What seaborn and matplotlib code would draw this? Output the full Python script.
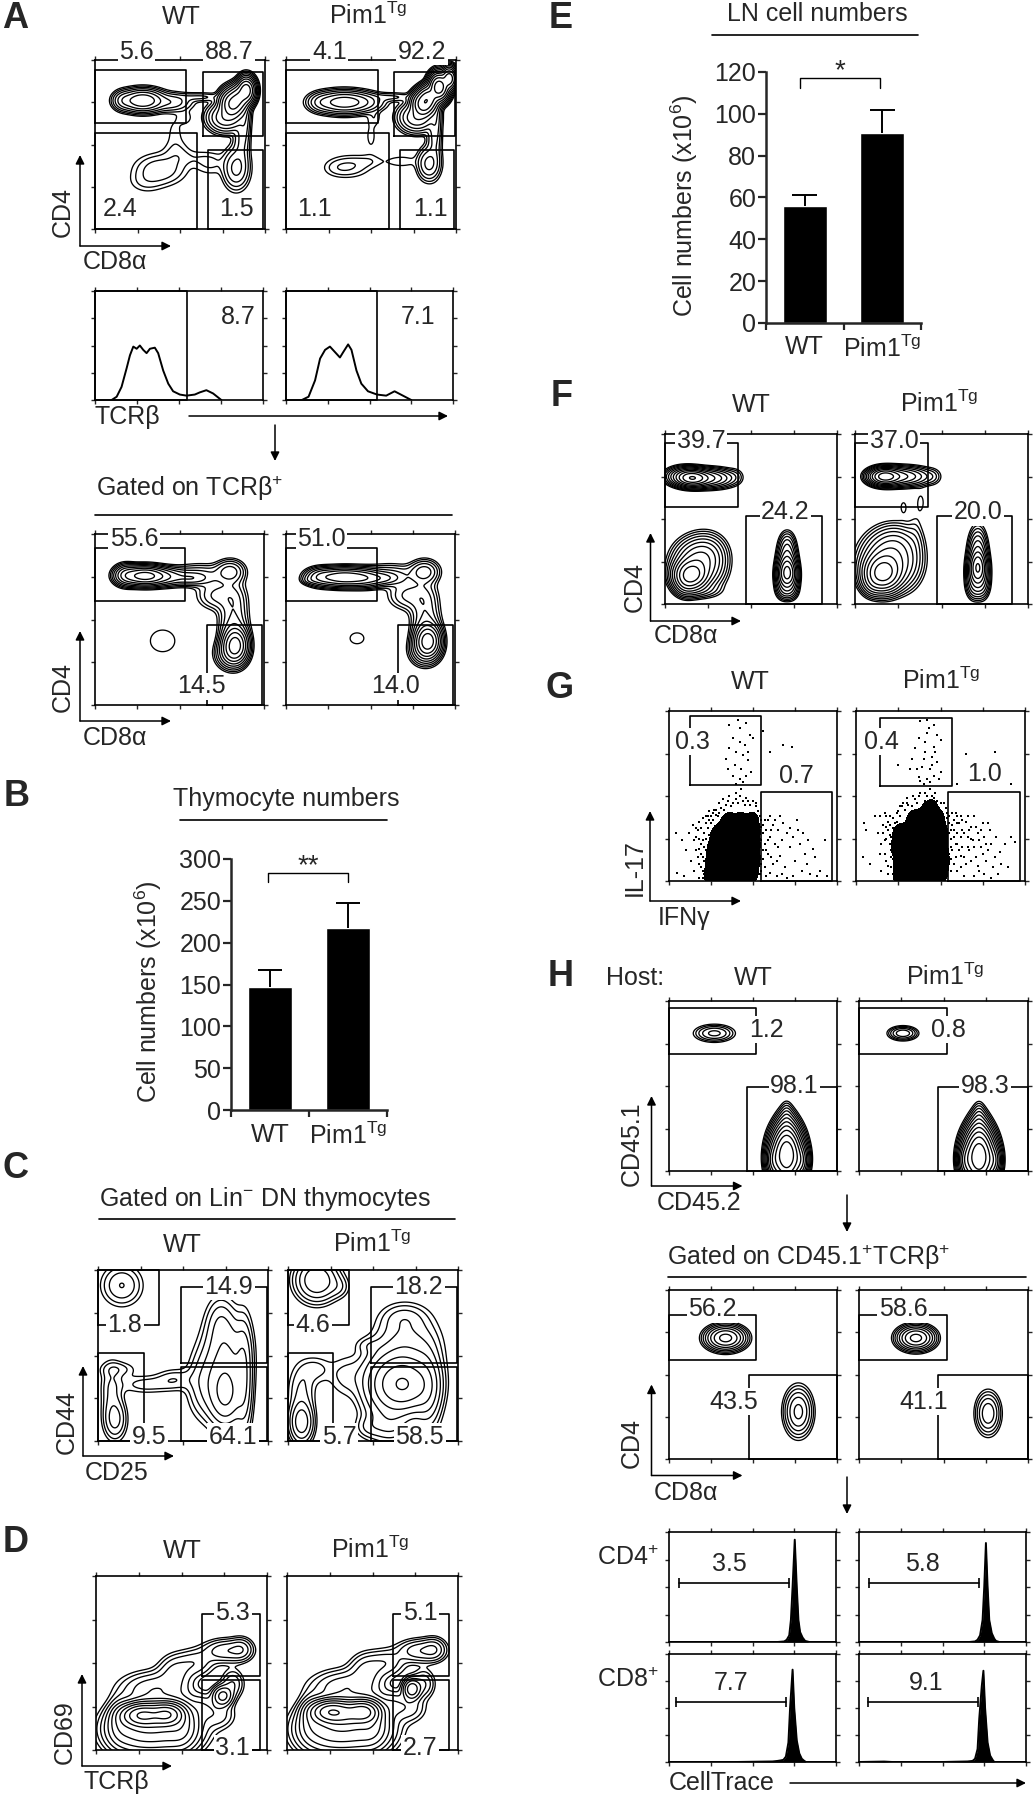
import numpy as np
import pandas as pd
import matplotlib
matplotlib.use("Agg")
import matplotlib.pyplot as plt
from matplotlib.colors import ListedColormap
import seaborn as sns

W, H = 1034, 1800
sns.set_style("white")
plt.rcParams["font.family"] = ["Liberation Sans", "DejaVu Sans"]
plt.rcParams["mathtext.fontset"] = "custom"
plt.rcParams["mathtext.rm"] = "Liberation Sans"
plt.rcParams["mathtext.it"] = "Liberation Sans:italic"
plt.rcParams["mathtext.bf"] = "Liberation Sans:bold"
plt.rcParams["mathtext.default"] = "rm"

PIM = r"Pim1$^{\mathrm{Tg}}$"
GROUPS = ["WT", PIM]

# bar charts
B_MEAN = [147, 217]
B_TOP = [167, 247]
B_TICKS = [0, 50, 100, 150, 200, 250, 300]
E_MEAN = [56, 91]
E_TOP = [61, 102]
E_TICKS = [0, 20, 40, 60, 80, 100, 120]

# histograms (percent of panel)
HA_WT_X = [9.9, 12.9, 15.8, 18.8, 20.8, 22.8, 24.8, 26.7, 28.7, 30.7, 32.7, 35.6, 37.6, 40.6, 43.6, 46.5, 50.5, 54.5, 59.4, 62.4, 66.3, 70.3, 75.2]
HA_WT_Y = [0, 3, 12, 29, 41, 49, 47, 50, 46, 43, 47, 48, 43, 27, 15, 8, 5, 4, 5, 7, 9, 6, 0]
HA_PIM_X = [9.5, 13.5, 17.4, 20.4, 23.4, 26.3, 29.3, 32.3, 34.3, 37.2, 39.2, 42.2, 45.1, 49.1, 54.5, 60, 65, 70, 75]
HA_PIM_Y = [0, 3, 18, 38, 46, 49, 44, 39, 44, 51, 46, 27, 15, 8, 5, 4, 8, 4, 0]

PEAK_CD4_WT_X = [0, 30, 65, 69, 70.5, 72, 73, 74, 75.3, 76.5, 77.5, 78.5, 80, 81.5, 84, 100]
PEAK_CD4_WT_Y = [0, 0, 0, 0.5, 2, 6, 20, 50, 93, 50, 20, 9, 4, 1, 0, 0]
PEAK_CD4_PIM_X = [0, 30, 66, 69.5, 71, 72.5, 74, 75, 76, 77, 78, 79.5, 81, 82, 84, 100]
PEAK_CD4_PIM_Y = [0, 0, 0, 0.5, 2, 6, 20, 50, 90, 50, 20, 8, 3, 1, 0, 0]
PEAK_CD8_WT_X = [0, 40, 62, 65, 67, 68.5, 70, 71.5, 72.5, 74, 75, 76.5, 78, 79.5, 81, 82, 100]
PEAK_CD8_WT_Y = [0, 0, 0.5, 1, 1.5, 2, 5, 18, 50, 85.5, 50, 20, 8, 3, 1, 0, 0]
PEAK_CD8_PIM_X = [0, 15, 20, 50, 65, 68, 69.5, 71, 72, 73.5, 74.5, 75.5, 77, 78.5, 80, 81, 100]
PEAK_CD8_PIM_Y = [0, 0.4, 0, 0, 0.5, 1, 3, 12, 40, 70, 84.5, 50, 18, 6, 2, 0, 0]

# population blobs: (x, y, spread x, spread y, height), percent of panel
A_WT = [(28, 76, 5.8, 3, 120), (17, 76, 3.2, 2.8, 20), (44, 75, 6.5, 2.8, 14), (62, 78, 8, 1.5, 4.5), (53, 66, 3, 3, 1.6),
        (81, 74, 3.4, 4, 300), (77, 66, 5, 4, 60), (89, 82, 2.4, 3.5, 400), (85, 78, 2.8, 3.6, 200), (88, 66, 1.8, 9, 10), (86, 52, 2.6, 9, 8),
        (83, 36, 3.8, 6, 20), (60, 42, 9, 3, 1.4), (68, 38, 6, 4, 2),
        (38, 35, 8, 5, 7), (30, 28, 6, 4, 2), (48, 44, 5, 5, 2.5), (47, 57, 3.5, 7, 1.3)]
A_PIM = [(34, 75, 7.5, 3, 100), (21, 75, 4, 2.8, 14), (46, 75, 6, 2.8, 16), (62, 78, 8, 1.5, 4.5), (52, 66, 2.5, 3, 1.5),
         (81, 74, 3.2, 3.5, 400), (77, 66, 5, 4, 60), (90, 84, 2.6, 3.6, 800), (84, 78, 2.8, 3.2, 300), (96, 89, 2, 3, 400), (88, 66, 1.8, 9, 10), (87, 52, 2.4, 9, 7),
         (84, 38.6, 3.3, 4.8, 20), (68, 40, 7, 2.5, 1.6),
         (37, 37, 7, 3.7, 4), (30, 36, 5, 3, 1.5), (48, 40, 6, 2.5, 1.5), (50, 55, 3, 8, 1.2)]
AG_WT = [(29, 75.5, 7, 3, 40), (18, 76, 4, 3.5, 10), (42, 75, 7, 3, 10), (57, 74, 6, 2.2, 5), (62, 76, 10, 4, 4), (80, 78, 5, 4, 7),
         (72, 64, 7, 5, 4), (82, 60, 5, 8, 4), (82, 46, 5, 7, 5), (83, 35, 4, 5.5, 40), (80, 30, 5, 5, 8), (40, 37.5, 8, 7, 1.5)]
AG_PIM = [(34, 74.7, 9, 3, 30), (20, 75, 5, 3, 8), (14, 73, 3, 1.5, 2), (47, 74, 6, 3, 10), (57, 74, 6, 2.2, 6), (62, 76, 10, 4, 4), (82, 78, 5, 4, 7),
          (72, 64, 7, 5, 4), (82, 60, 5, 8, 4), (83, 46, 5, 7, 5), (84, 37.5, 4, 5, 40), (82, 32, 5, 5, 8), (42, 39, 4.5, 3.5, 1.5)]
C_WT = [(14, 91, 7, 7, 5), (10, 12.6, 4, 7, 6), (8, 30, 4, 10, 3), (12, 42, 7, 3, 2), (28, 33, 10, 3.5, 2.2), (45, 36, 7, 4, 2.5),
        (75, 27, 6, 11, 15), (75, 50, 8, 14, 8), (72, 70, 5, 9, 3), (62, 33, 6, 12, 4), (86, 30, 3, 18, 5), (86, 50, 3, 15, 3)]
C_PIM = [(17, 94, 7, 7, 14), (30, 90, 4, 4, 2), (8, 11, 4, 7, 12), (8, 30, 5, 9, 3), (16, 42, 6, 5, 2), (34, 38, 7, 8, 2), (47, 56, 5, 3, 1.4),
         (68, 33, 9, 9, 40), (55, 33, 8, 12, 8), (70, 55, 11, 12, 6), (68, 72, 8, 5, 2.5), (82, 30, 5, 14, 8), (60, 10, 8, 7, 5), (47, 8, 5, 4, 2)]
D_WT = [(25.7, 20, 6, 3.5, 80), (42, 20.5, 5, 3.5, 80), (34, 20, 7, 4, 50), (22, 12, 10, 8, 15), (40, 12, 12, 8, 20), (14, 17, 4, 7, 6), (50, 15, 5, 8, 10),
        (34, 35, 12, 6, 6), (46, 45, 6, 6, 4), (58, 50, 7, 5, 3.5), (76, 57, 8, 4, 6), (85, 58, 4, 4, 4), (74, 31, 3.5, 3.5, 12), (80, 38, 4, 5, 4), (72, 20, 6, 5, 3), (62, 25, 5, 5, 3)]
D_PIM = [(25, 22, 6, 3.5, 80), (44.6, 22, 5, 3.5, 70), (34, 21, 7, 4, 50), (22, 12, 10, 8, 15), (40, 12, 12, 8, 20), (14, 19, 4, 7, 6), (50, 16, 5, 8, 10),
         (34, 36, 12, 6, 6), (46, 46, 6, 6, 4), (58, 50, 7, 5, 3.5), (78, 57, 8, 4, 6), (86, 58, 4, 4, 4), (73, 35, 3, 3.5, 14), (80, 38, 4, 5, 4), (72, 24, 6, 5, 3), (62, 26, 5, 5, 3)]
F_WT = [(16, 74, 4.5, 2.4, 80), (24, 74, 6.5, 2.8, 30), (34, 74, 5, 3, 5), (41, 75, 3, 3, 1.5), (12, 75, 5.5, 2.8, 30),
        (15, 17, 5, 4.5, 80), (19, 24, 7, 7, 30), (24, 30, 6, 6, 8), (28, 22, 5, 8, 3), (12, 12, 3.5, 4, 10), (20, 8, 7, 2.5, 3),
        (71, 18, 2.5, 4.6, 70), (71, 26, 2.8, 6.5, 20), (68, 16, 2.3, 5.5, 10), (74, 16, 2.3, 5.5, 10), (71, 8, 3, 3, 8), (71, 36, 2.5, 4, 3)]
F_PIM = [(17, 75, 4.5, 2.5, 80), (25, 75, 7, 2.8, 30), (36, 75, 6, 3, 6), (45, 75, 3, 3, 1.6), (28, 57, 2, 4, 1.2), (38, 60, 2, 5, 1.2),
         (16, 18, 5.5, 5.5, 80), (20, 26, 8, 8, 30), (24, 36, 7, 6, 6), (30, 22, 5, 8, 3), (10, 12, 3.5, 4, 6), (35, 40, 3, 10, 1.3),
         (71, 21, 2.3, 5, 60), (71, 30, 2.8, 7.5, 16), (68, 18, 2.3, 6.5, 10), (74, 18, 2.3, 6.5, 10), (71, 10, 3, 4, 8)]
H1_WT = [(27, 81, 7, 3, 5), (70, 9, 5, 9, 80), (70, 22, 3.5, 8, 8), (70, 33, 2, 5, 1.5), (62, 6, 2.5, 5, 10), (79, 6, 2.5, 5, 10)]
H1_PIM = [(26, 81, 5, 2.4, 6), (71, 8, 5, 9, 80), (71, 22, 3.5, 8, 8), (71, 33, 2, 5, 1.5), (63, 6, 2.5, 5, 10), (80, 6, 2.5, 5, 10)]
H2_WT = [(33.7, 71.6, 7, 4.4, 12), (77, 28, 5.3, 9, 6)]
H2_PIM = [(33.7, 71.6, 6.5, 4.3, 12), (76.4, 27, 4.7, 8, 5)]

# dense core of the dot plots
G_WT_CORE = [(25, 4), (33, 4), (41, 4), (49, 4), (26, 12), (34, 12), (42, 12), (50, 12), (27, 20), (35, 20), (43, 20), (50, 20),
             (29, 28), (37, 28), (45, 28), (50, 28), (35, 35), (42, 35), (49, 35)]
G_PIM_CORE = [(26, 4), (34, 4), (42, 4), (50, 4), (27, 12), (35, 12), (43, 12), (51, 12), (25, 20), (33, 20), (41, 20), (50, 20),
              (26, 28), (34, 28), (42, 28), (50, 28), (34, 36), (41, 38), (48, 36), (44, 42)]
G_WT_DOTS = [(36, 92), (42, 90), (46, 93), (48, 86), (38, 84), (42, 82), (45, 80), (50, 84), (36, 78), (40, 76), (44, 74), (47, 71), (39, 68),
             (43, 66), (35, 66), (38, 62), (42, 60), (46, 62), (49, 64), (44, 58), (40, 57), (41, 95), (47, 76), (34, 72), (68, 80), (73, 79), (60, 76),
             (56, 88), (32, 48), (36, 50), (40, 52), (44, 47), (38, 46), (42, 50), (46, 49), (34, 45), (48, 45), (30, 46), (43, 54), (40, 48), (52, 46),
             (5, 5), (4, 28), (8, 24), (10, 18), (9, 3), (12, 28), (14, 33), (16, 26), (18, 35), (13, 12), (15, 6), (16, 18), (18, 10), (17, 30), (19, 22),
             (20, 6), (20, 14), (21, 28), (22, 34), (23, 38), (19, 16), (21, 20), (22, 10), (24, 36), (26, 40), (28, 42), (30, 40), (20, 2), (18, 2),
             (54, 38), (55, 32), (54, 25), (56, 18), (55, 10), (54, 4), (56, 28), (53, 15), (53, 33), (53, 8), (52, 38), (57, 36),
             (60, 38), (62, 33), (60, 26), (63, 22), (59, 16), (62, 10), (60, 5), (65, 30), (66, 38), (67, 24), (66, 15), (69, 8), (68, 34), (70, 28),
             (72, 20), (72, 31), (74, 26), (75, 12), (76, 36), (77, 30), (78, 22), (79, 6), (80, 28), (81, 16), (82, 10), (83, 24), (84, 4), (86, 19),
             (87, 14), (88, 3), (90, 6), (93, 24), (94, 3), (70, 2), (74, 3), (64, 3),
             (19, 31), (20, 37), (21, 12), (22, 18), (22, 25), (23, 5), (23, 31), (24, 15), (24, 27), (25, 34), (25, 38), (26, 36), (27, 42), (29, 38), (31, 43),
             (18, 25), (17, 14), (19, 8), (16, 31), (15, 24), (21, 4), (20, 24), (18, 19), (22, 38), (24, 41), (28, 39), (33, 42), (35, 47), (37, 44), (41, 46),
             (45, 45), (47, 47), (50, 47), (52, 44), (53, 41), (53, 28), (53, 22), (53, 12), (53, 4), (54, 15), (54, 30), (54, 20), (55, 36), (55, 24), (55, 6),
             (56, 13), (56, 33), (57, 22), (57, 8), (58, 30), (58, 18), (58, 3), (59, 36), (59, 24), (61, 14), (61, 30), (63, 36), (64, 12), (65, 20), (67, 4)]
G_PIM_DOTS = [(38, 94), (43, 90), (46, 92), (48, 86), (37, 84), (41, 82), (46, 79), (50, 83), (35, 78), (41, 76), (45, 73), (48, 70), (39, 67), (44, 66),
              (36, 66), (37, 61), (42, 60), (46, 62), (50, 64), (44, 58), (40, 57), (42, 95), (47, 76), (33, 72), (42, 87), (45, 68), (40, 72), (49, 60), (38, 59),
              (32, 66), (25, 68), (65, 75), (82, 76), (92, 57), (60, 57),
              (30, 49), (34, 50), (38, 52), (42, 50), (46, 49), (36, 46), (44, 54), (41, 47), (48, 47), (30, 46), (47, 52), (26, 44), (52, 46),
              (5, 34), (6, 30), (4, 14), (8, 10), (11, 38), (13, 28), (14, 16), (15, 6), (16, 33), (17, 24), (14, 38), (18, 12), (19, 35), (19, 4), (20, 27), (21, 18),
              (18, 38), (21, 8), (22, 37), (23, 3), (17, 40), (24, 40), (22, 13), (20, 22),
              (54, 40), (55, 34), (54, 27), (56, 20), (55, 10), (54, 4), (56, 30), (53, 15), (58, 36), (59, 40), (60, 34), (62, 38), (58, 26), (63, 30), (60, 22), (65, 35),
              (62, 15), (60, 6), (66, 26), (67, 18), (65, 10), (68, 32), (69, 24), (70, 38), (71, 14), (72, 28), (73, 6), (74, 20), (75, 34), (76, 26), (77, 12),
              (78, 18), (79, 30), (80, 22), (81, 8), (82, 14), (83, 26), (84, 4), (85, 17), (86, 10), (88, 22), (90, 8), (92, 26), (94, 23), (70, 3), (76, 4), (64, 3), (80, 2),
              (19, 30), (20, 38), (21, 14), (22, 20), (22, 31), (23, 7), (23, 26), (24, 3), (24, 16), (24, 35), (25, 41), (26, 38), (27, 44), (29, 42), (31, 45),
              (18, 25), (17, 16), (19, 9), (16, 28), (15, 22), (21, 26), (20, 33), (18, 32), (23, 34), (28, 46), (33, 44), (35, 48), (37, 50), (41, 52), (45, 50),
              (50, 46), (53, 43), (54, 37), (54, 22), (54, 10), (55, 16), (55, 28), (55, 38), (56, 6), (56, 13), (56, 25), (57, 33), (57, 18), (57, 40), (58, 10),
              (58, 30), (59, 22), (59, 14), (60, 38), (60, 28), (61, 18), (61, 34), (62, 26), (62, 8), (63, 20), (63, 36), (64, 28), (64, 14), (66, 38), (66, 20),
              (67, 30), (68, 12), (68, 25), (70, 20), (71, 32), (72, 9), (73, 24), (74, 30), (75, 16), (77, 22), (78, 34)]

# gates (x0, y0, x1, y1) and labels (x, y, text), percent of panel
GATE_A_WT = [(0, 62.6, 53.5, 94), (63.3, 55, 99, 93), (0, 0, 60, 57), (66.7, 0, 99, 47)]
GATE_A_PIM = [(0, 62.6, 54, 94), (63.7, 55, 99.6, 93), (0, 0, 60.4, 57), (67, 0, 99, 47)]
LAB_A_WT = [(24.5, 105, "5.6"), (79, 105, "88.7"), (15, 12, "2.4"), (83, 12, "1.5")]
LAB_A_PIM = [(25.5, 105, "4.1"), (80, 105, "92.2"), (17, 12, "1.1"), (85, 12, "1.1")]
LAB_HA_WT = [(85, 76, "8.7")]
LAB_HA_PIM = [(79, 76, "7.1")]
GATE_AG_WT = [(0, 61, 53.5, 92), (66.5, 0, 99, 47)]
GATE_AG_PIM = [(0, 61, 54, 92), (66.5, 0, 99, 47)]
LAB_AG_WT = [(23, 97, "55.6"), (63, 11, "14.5")]
LAB_AG_PIM = [(21, 97, "51.0"), (65, 11, "14.0")]
GATE_C_WT = [(0, 68, 36, 100), (0, 0, 27, 51.5), (48.6, 45.4, 99.5, 90.3), (48.6, 0, 99.5, 43)]
GATE_C_PIM = [(0, 68, 35.7, 100), (0, 0, 26.5, 51.5), (48.6, 45.4, 99.4, 90.3), (48.6, 0, 99.4, 43)]
LAB_C_WT = [(15.7, 68, "1.8"), (77, 90.3, "14.9"), (30, 2.4, "9.5"), (79.4, 2.4, "64.1")]
LAB_C_PIM = [(14.7, 68, "4.6"), (77, 90.3, "18.2"), (30, 2.4, "5.7"), (77.5, 2.4, "58.5")]
GATE_D_WT = [(62, 42.4, 96, 78), (62, 0, 96, 40.5)]
GATE_D_PIM = [(62, 42.4, 95, 78), (62, 0, 95, 40.5)]
LAB_D_WT = [(80, 79, "5.3"), (80, 1, "3.1")]
LAB_D_PIM = [(77.7, 79, "5.1"), (77.7, 1, "2.7")]
GATE_F_WT = [(0, 57.3, 42.6, 95), (47, 0, 91, 52)]
GATE_F_PIM = [(0, 57.3, 42.4, 95), (47.3, 0, 91, 52)]
LAB_F_WT = [(21, 95.6, "39.7"), (70, 54, "24.2")]
LAB_F_PIM = [(22.7, 95.6, "37.0"), (71, 54, "20.0")]
GATE_G_WT = [(12.5, 56.7, 55, 97), (54.5, 0, 97, 52.6)]
GATE_G_PIM = [(14.3, 56, 57, 96), (54.5, 0, 97, 52.2)]
LAB_G_WT = [(14, 82, "0.3"), (75.8, 62, "0.7")]
LAB_G_PIM = [(15, 82, "0.4"), (75.8, 62.7, "1.0")]
GATE_H1_WT = [(0, 69, 52, 95.7), (46.5, 0, 100, 49.5)]
GATE_H1_PIM = [(0, 69, 52, 95.7), (46.9, 0, 100, 49.5)]
LAB_H1_WT = [(58, 83, "1.2"), (74.7, 50, "98.1")]
LAB_H1_PIM = [(53, 83, "0.8"), (74.7, 50, "98.3")]
GATE_H2_WT = [(0, 58.7, 51.5, 85.4), (47.5, 0, 100, 49.5)]
GATE_H2_PIM = [(0, 58.7, 52, 85.4), (47, 0, 100, 49.5)]
LAB_H2_WT = [(26, 88.6, "56.2"), (38.4, 34, "43.5")]
LAB_H2_PIM = [(26, 88.6, "58.6"), (38.4, 34, "41.1")]
# interval gates (x0, x1, y, label x, label y, text)
INT_CD4_WT = (5.7, 71.8, 54, 36, 71, "3.5")
INT_CD4_PIM = (6.1, 71.8, 54, 38, 71, "5.8")
INT_CD8_WT = (4, 69.8, 55.7, 37, 73, "7.7")
INT_CD8_PIM = (5.3, 71, 55.7, 40, 73, "9.1")

FS = 18
LW = 1.2

fig = plt.figure(figsize=(W / 100, H / 100), dpi=100, facecolor="white")


def panel_ax(x0, y0, x1, y1):
    ax = fig.add_axes([x0 / W, 1 - y1 / H, (x1 - x0) / W, (y1 - y0) / H])
    return ax


def finish_flow(ax, gates=(), labels=()):
    for g in gates:
        ax.plot([g[0], g[2], g[2], g[0], g[0]], [g[1], g[1], g[3], g[3], g[1]], color="black", lw=LW, clip_on=False, zorder=2)
    for x, y, s in labels:
        ax.text(x, y, s, fontsize=FS, ha="center", va="center", zorder=6, clip_on=False,
                bbox=dict(facecolor="white", edgecolor="none", pad=1))
    ax.set_xlim(0, 100)
    ax.set_ylim(0, 100)
    ax.set_xticks([0, 25, 50, 75, 100])
    ax.set_yticks([0, 25, 50, 75, 100])
    ax.set_xlabel("")
    ax.set_ylabel("")
    ax.tick_params(axis="both", direction="out", length=3, width=1, top=True, right=True, bottom=True, left=True,
                   labelbottom=False, labelleft=False, pad=0)
    for s in ax.spines.values():
        s.set_linewidth(LW)
        s.set_color("black")
        s.set_visible(True)


def flow(box, blobs, ratio, gates, labels):
    # contour levels step by a fixed ratio, like the log-density contours of the plots
    ax = panel_ax(*box)
    gx, gy = np.meshgrid(np.linspace(-3, 103, 320), np.linspace(-3, 103, 320))
    z = np.zeros_like(gx)
    for x, y, sx, sy, h in blobs:
        z += h * np.exp(-0.5 * (((gx - x) / sx) ** 2 + ((gy - y) / sy) ** 2))
    n = int(np.log(z.max()) / np.log(ratio))
    ax.contour(gx, gy, z, levels=ratio ** np.arange(0, n + 1), colors="black", linewidths=0.95)
    finish_flow(ax, gates, labels)
    return ax


def hist_line(box, xs, ys, gates=(), labels=(), filled=False):
    ax = panel_ax(*box)
    sns.lineplot(x=xs, y=ys, color="black", lw=1.4, ax=ax, errorbar=None)
    if filled:
        ax.fill_between(xs, ys, color="black", lw=0)
    finish_flow(ax, gates, labels)
    return ax


def dots(box, core, pts, gates, labels):
    ax = panel_ax(*box)
    cdf = pd.DataFrame(core, columns=["x", "y"])
    sns.kdeplot(data=cdf, x="x", y="y", fill=True, levels=[0.06, 1], cmap=ListedColormap(["black"]), bw_adjust=0.5,
                gridsize=150, clip=((-5, 105), (-5, 105)), ax=ax)
    ddf = pd.DataFrame(pts, columns=["x", "y"])
    sns.scatterplot(data=ddf, x="x", y="y", s=4, color="black", linewidth=0, marker="s", ax=ax)
    finish_flow(ax, gates, labels)
    return ax


def bars(box, means, tops, ticks, ymax):
    ax = panel_ax(*box)
    sns.barplot(x=GROUPS, y=means, color="black", saturation=1, width=0.565, ax=ax)
    ax.vlines([0, 1], means, tops, color="black", lw=1.4)
    ax.hlines(tops, [-0.16, 0.84], [0.16, 1.16], color="black", lw=1.4)
    ax.set_xlim(-0.5, 1.5)
    ax.set_ylim(0, ymax)
    ax.set_yticks(ticks)
    ax.set_xticks([-0.5, 0.5, 1.5], minor=True)
    ax.tick_params(axis="x", which="major", length=0, labelsize=FS, pad=9)
    ax.tick_params(axis="x", which="minor", direction="out", length=5, width=1.6, bottom=True)
    ax.tick_params(axis="y", direction="out", length=6, width=1.6, left=True, labelsize=FS, pad=1)
    sns.despine(ax=ax)
    ax.spines["left"].set_linewidth(1.8)
    ax.spines["bottom"].set_linewidth(1.8)
    return ax


# panel A
flow((95, 60, 265, 229), A_WT, 2.0, GATE_A_WT, LAB_A_WT)
flow((286, 60, 456, 229), A_PIM, 2.0, GATE_A_PIM, LAB_A_PIM)
hist_line((95, 291, 263, 400), HA_WT_X, HA_WT_Y, [(0, 0, 54.9, 100)], LAB_HA_WT)
hist_line((286, 291, 453, 400), HA_PIM_X, HA_PIM_Y, [(0, 0, 54.7, 100)], LAB_HA_PIM)
flow((95, 534, 264, 705), AG_WT, 1.55, GATE_AG_WT, LAB_AG_WT)
flow((286, 534, 455, 705), AG_PIM, 1.55, GATE_AG_PIM, LAB_AG_PIM)
# panel C, D
flow((98, 1270, 268, 1441), C_WT, 1.7, GATE_C_WT, LAB_C_WT)
flow((288, 1270, 458, 1441), C_PIM, 1.7, GATE_C_PIM, LAB_C_PIM)
flow((96, 1576, 267, 1750), D_WT, 1.6, GATE_D_WT, LAB_D_WT)
flow((287, 1576, 458, 1750), D_PIM, 1.6, GATE_D_PIM, LAB_D_PIM)
# panel F
flow((665, 434, 837, 604), F_WT, 1.6, GATE_F_WT, LAB_F_WT)
flow((855, 434, 1028, 604), F_PIM, 1.6, GATE_F_PIM, LAB_F_PIM)
# panel G
dots((669, 711, 837, 881), G_WT_CORE, G_WT_DOTS, GATE_G_WT, LAB_G_WT)
dots((856, 711, 1025, 881), G_PIM_CORE, G_PIM_DOTS, GATE_G_PIM, LAB_G_PIM)
# panel H
flow((669, 1001, 837, 1171), H1_WT, 1.45, GATE_H1_WT, LAB_H1_WT)
flow((859, 1001, 1028, 1171), H1_PIM, 1.45, GATE_H1_PIM, LAB_H1_PIM)
flow((669, 1290, 837, 1459), H2_WT, 1.4, GATE_H2_WT, LAB_H2_WT)
flow((859, 1290, 1028, 1459), H2_PIM, 1.4, GATE_H2_PIM, LAB_H2_PIM)
hists = [((669, 1532, 836, 1642), PEAK_CD4_WT_X, PEAK_CD4_WT_Y, INT_CD4_WT),
         ((859, 1532, 1026, 1642), PEAK_CD4_PIM_X, PEAK_CD4_PIM_Y, INT_CD4_PIM),
         ((669, 1654, 836, 1762), PEAK_CD8_WT_X, PEAK_CD8_WT_Y, INT_CD8_WT),
         ((859, 1654, 1026, 1762), PEAK_CD8_PIM_X, PEAK_CD8_PIM_Y, INT_CD8_PIM)]
for box, xs, ys, it in hists:
    ax = hist_line(box, xs, ys, labels=[(it[3], it[4], it[5])], filled=True)
    ax.plot([it[0], it[1]], [it[2], it[2]], color="black", lw=LW, marker="|", ms=7, mew=LW)

# bar panels
bars((231, 859, 387, 1110), B_MEAN, B_TOP, B_TICKS, 300)
bars((766, 72, 921, 323), E_MEAN, E_TOP, E_TICKS, 120)

# annotations in figure pixels
ov = fig.add_axes([0, 0, 1, 1], zorder=20)
ov.set_xlim(0, W)
ov.set_ylim(H, 0)
ov.axis("off")
ov.patch.set_alpha(0)


def txt(x, y, s, size=FS, **kw):
    kw.setdefault("ha", "center")
    ov.text(x, y, s, fontsize=size, va="center", **kw)


def arrow(x0, y0, x1, y1):
    ov.annotate("", xy=(x1, y1), xytext=(x0, y0),
                arrowprops=dict(arrowstyle="-|>", color="black", lw=1.1, mutation_scale=13, shrinkA=0, shrinkB=0))


def axes_arrows(cx, cy, top, right, ylab, ylx, yly, xlab, xlx, xly):
    arrow(cx, cy, cx, top)
    arrow(cx, cy, right, cy)
    txt(ylx, yly, ylab, rotation=90)
    txt(xlx, xly, xlab)


def hline(x0, x1, y):
    ov.plot([x0, x1], [y, y], color="black", lw=1.2)


for s, x, y in [("A", 15, 18), ("B", 17, 796), ("C", 16, 1169), ("D", 16, 1542), ("E", 561, 19),
                ("F", 562, 396), ("G", 560, 688), ("H", 561, 977)]:
    txt(x, y, s, size=26, fontweight="bold")

for xa, xb, y in [(181, 368, 17), (182, 372, 1245), (182, 370, 1551), (751, 939, 405), (750, 941, 682), (753, 945, 978)]:
    txt(xa, y, "WT")
    txt(xb, y - 1, PIM)

axes_arrows(80, 246, 155, 171, "CD4", 63, 212, "CD8α", 115, 262)
txt(127, 417, "TCRβ")
arrow(189, 416, 448, 416)
arrow(275, 425, 275, 461)
txt(96, 488, r"Gated on TCRβ$^{+}$", ha="left")
hline(95, 452, 515)
axes_arrows(80, 721, 631, 171, "CD4", 63, 687, "CD8α", 115, 738)

txt(286, 799, "Thymocyte numbers")
hline(180, 387, 820)
ov.plot([268, 268, 348, 348], [882, 873, 873, 882], color="black", lw=1)
txt(308, 866, "**", size=20)
txt(148, 992, r"Cell numbers (x10$^{6}$)", rotation=90)

txt(99, 1199, r"Gated on Lin$^{-}$ DN thymocytes", ha="left")
hline(99, 455, 1219)
axes_arrows(83, 1456, 1366, 174, "CD44", 67, 1422, "CD25", 117, 1473)
axes_arrows(82, 1766, 1674, 172, "CD69", 65, 1732, "TCRβ", 116, 1782)

txt(817, 14, "LN cell numbers")
hline(712, 918, 35)
ov.plot([800, 800, 880, 880], [88, 77.5, 77.5, 88], color="black", lw=1)
txt(840, 71, "*", size=20)
txt(684, 206, r"Cell numbers (x10$^{6}$)", rotation=90)

axes_arrows(650.5, 621, 533, 741, "CD4", 634.5, 587, "CD8α", 686, 636)
axes_arrows(650, 901, 811, 741, "IL-17", 634.5, 868, "IFNγ", 684, 918)
txt(635, 978, "Host:")
axes_arrows(651.5, 1186, 1096, 742.5, "CD45.1", 632, 1144, "CD45.2", 699, 1203)
arrow(847, 1195, 847, 1232)
txt(667, 1257, r"Gated on CD45.1$^{+}$TCRβ$^{+}$", ha="left")
hline(668, 1026, 1276.5)
axes_arrows(651.5, 1475.5, 1384.5, 742.5, "CD4", 632, 1443, "CD8α", 686, 1492.5)
arrow(847, 1477, 847, 1514)
txt(628, 1558, r"CD4$^{+}$")
txt(628, 1680, r"CD8$^{+}$")
txt(669, 1783, "CellTrace", ha="left")
arrow(790, 1783, 1026, 1783)

fig.savefig("out.png", dpi=100, facecolor="white")
